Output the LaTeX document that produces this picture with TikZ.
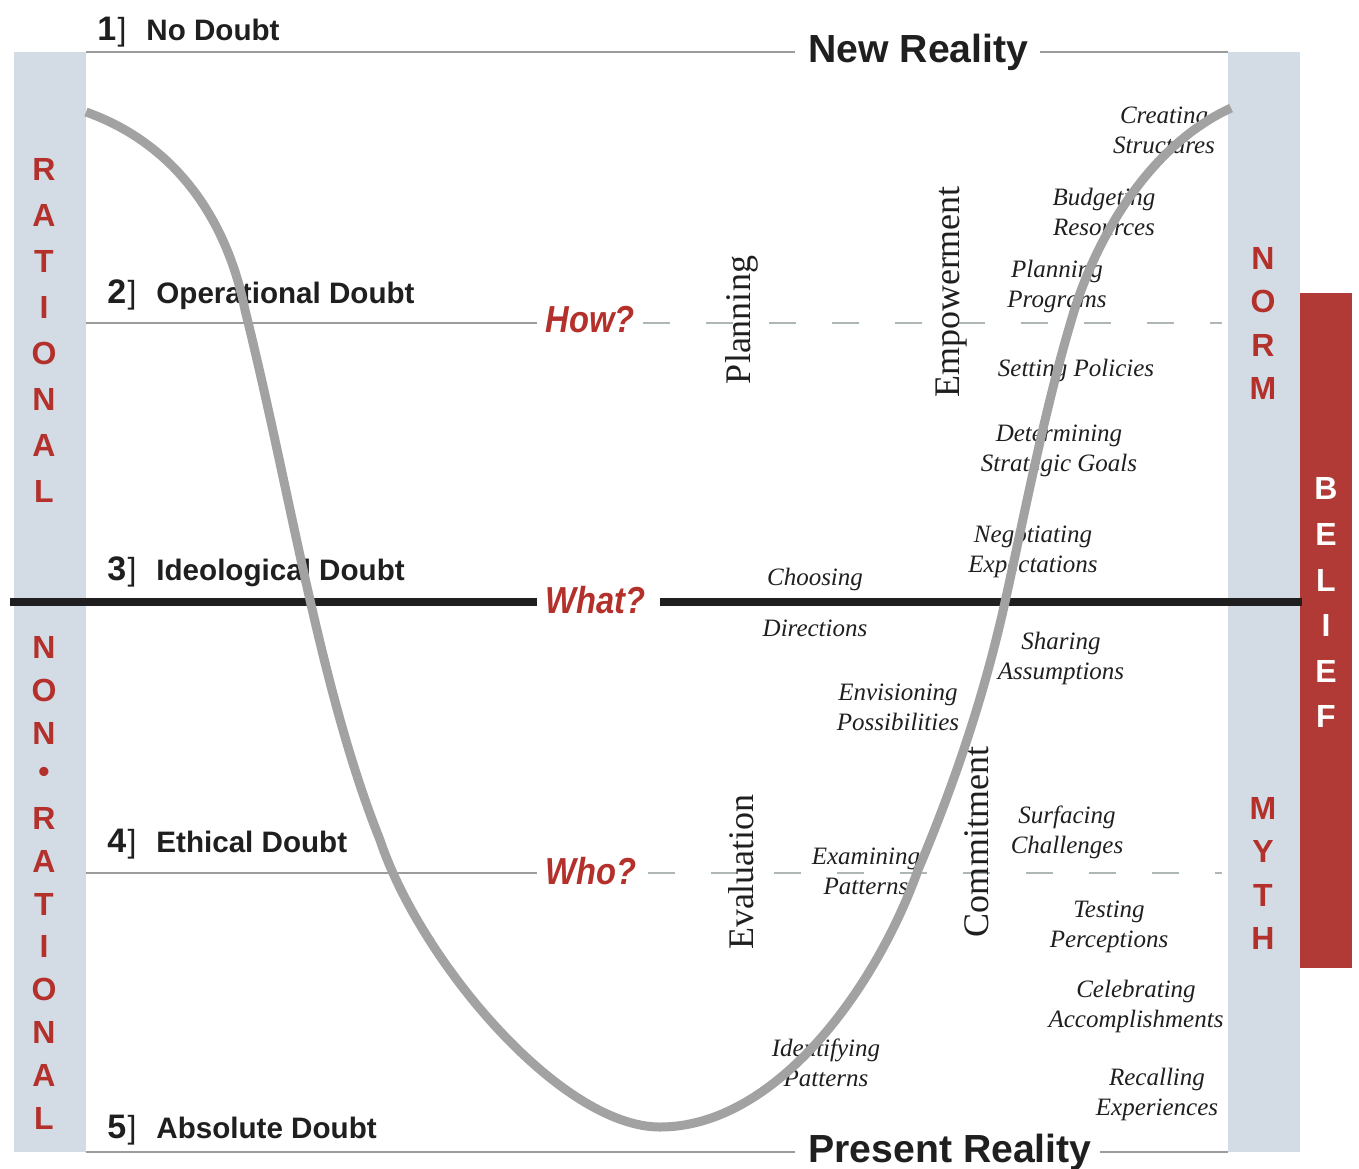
\documentclass[tikz,border=0pt]{standalone}
\usepackage{fontspec}
\setmainfont{Liberation Serif}
\setsansfont{Liberation Sans}
\newfontfamily\askfont[FakeStretch=0.87]{Liberation Sans}

\definecolor{barblue}{HTML}{D3DBE5}
\definecolor{beliefred}{HTML}{B13A36}
\definecolor{labelred}{HTML}{B3302B}
\definecolor{curvegray}{HTML}{A2A2A2}
\definecolor{inkdark}{HTML}{1F1F1F}
\definecolor{rulegray}{HTML}{9C9C9C}
\definecolor{dashgray}{HTML}{AEB6B6}

% number of a doubt level: bold digit, light bracket
\newcommand{\levelnum}[1]{{\fontsize{17}{17}\selectfont\bfseries #1}\hspace{0.6pt}{\fontsize{16}{17}\selectfont\mdseries ]}\hspace{10pt}}

\tikzset{
  rulethin/.style={draw=rulegray, line width=1pt},
  ruledash/.style={draw=dashgray, line width=1pt, dash pattern=on 13.5pt off 18pt},
  rulethick/.style={draw=inkdark, line width=4pt},
  barletter/.style={font=\sffamily\bfseries\fontsize{16}{16}\selectfont, text=labelred, inner sep=0},
  beliefletter/.style={barletter, text=white},
  doubt/.style={anchor=base west, inner sep=0, text=inkdark, font=\sffamily\bfseries\fontsize{14.8}{17}\selectfont},
  reality/.style={anchor=base west, inner sep=0, text=inkdark, font=\sffamily\bfseries\fontsize{19.6}{22}\selectfont},
  ask/.style={anchor=base west, inner sep=0, text=labelred, font=\askfont\bfseries\itshape\fontsize{18.8}{20}\selectfont},
  phase/.style={rotate=90, inner sep=0, text=inkdark, font=\rmfamily\fontsize{18}{18}\selectfont},
  act/.style={align=center, inner sep=0, text=inkdark, font=\rmfamily\itshape\fontsize{12.5}{15}\selectfont},
  curve/.style={draw=curvegray, line width=4.5pt},
}

\begin{document}
\begin{tikzpicture}[x=0.5pt, y=-0.5pt]
\useasboundingbox (0,0) rectangle (1359,1168);

% side bands
\fill[barblue] (14,52) rectangle (86,1152);
\fill[barblue] (1228,52) rectangle (1300,1152);
\fill[beliefred] (1300,293) rectangle (1352,968);

% band lettering
\foreach \ch/\yy [count=\i] in {R/169,A/215,T/261,I/307,O/353,N/399,A/445,L/491}
  \node[barletter] (rat\i) at (44,\yy) {\ch};
\foreach \ch/\yy [count=\i] in {N/647,O/690,N/733,•/775,R/818,A/861,T/904,I/946,O/989,N/1032,A/1075,L/1118}
  \node[barletter] (nrat\i) at (44,\yy) {\ch};
\foreach \ch/\yy [count=\i] in {N/258,O/301,R/345,M/388}
  \node[barletter] (norm\i) at (1263,\yy) {\ch};
\foreach \ch/\yy [count=\i] in {M/808,Y/851,T/895,H/938}
  \node[barletter] (myth\i) at (1263,\yy) {\ch};
\foreach \ch/\yy [count=\i] in {B/488,E/534,L/580,I/625,E/671,F/716}
  \node[beliefletter] (belief\i) at (1326,\yy) {\ch};

% rule end points
\coordinate (t1) at (86,52);    \coordinate (t2) at (795,52);
\coordinate (t3) at (1040,52);  \coordinate (t4) at (1228,52);
\coordinate (b1) at (86,1152);  \coordinate (b2) at (795,1152);
\coordinate (b3) at (1100,1152);\coordinate (b4) at (1228,1152);
\coordinate (h1) at (86,323);   \coordinate (h2) at (537,323);
\coordinate (h3) at (643,323);  \coordinate (h4) at (1222,323);
\coordinate (w1) at (10,602);   \coordinate (w2) at (537,602);
\coordinate (w3) at (660,602);  \coordinate (w4) at (1302,602);
\coordinate (o1) at (86,873);   \coordinate (o2) at (537,873);
\coordinate (o3) at (648,873);  \coordinate (o4) at (1222,873);

\draw[rulethin] (t1) -- (t2);  \draw[rulethin] (t3) -- (t4);
\draw[rulethin] (b1) -- (b2);  \draw[rulethin] (b3) -- (b4);
\draw[rulethin] (h1) -- (h2);  \draw[ruledash] (h3) -- (h4);
\draw[rulethin] (o1) -- (o2);  \draw[ruledash] (o3) -- (o4);
\draw[rulethick] (w1) -- (w2); \draw[rulethick] (w3) -- (w4);

% doubt levels
\node[doubt] (lv1) at (97,40)   {\levelnum{1}No Doubt};
\node[doubt] (lv2) at (107,303) {\levelnum{2}Operational Doubt};
\node[doubt] (lv3) at (107,580) {\levelnum{3}Ideological Doubt};
\node[doubt] (lv4) at (107,852) {\levelnum{4}Ethical Doubt};
\node[doubt] (lv5) at (107,1138){\levelnum{5}Absolute Doubt};

\node[reality] (newreal) at (808,62)   {New Reality};
\node[reality] (presreal) at (808,1162){Present Reality};

\node[ask] (how)  at (545,332) {How?};
\node[ask] (what) at (545,613) {What?};
\node[ask] (who)  at (545,884) {Who?};

% phases
\node[phase] (planning) at (742,320) {Planning};
\node[phase] (empower)  at (952,292) {Empowerment};
\node[phase] (evaluate) at (741,872) {Evaluation};
\node[phase] (commit)   at (977,842) {Commitment};

% activities
\node[act] (cs)  at (1164,130) {Creating\\Structures};
\node[act] (br)  at (1104,212) {Budgeting\\Resources};
\node[act] (pp)  at (1057,286) {Planning\\Programs};
\node[act] (sp)  at (1076,370) {Setting Policies};
\node[act] (dsg) at (1059,451) {Determining\\Strategic Goals};
\node[act] (ne)  at (1033,552) {Negotiating\\Expectations};
\node[act] (cho) at (815,579)  {Choosing};
\node[act] (dir) at (815,628)  {Directions};
\node[act] (sa)  at (1061,658) {Sharing\\Assumptions};
\node[act] (ep)  at (898,707)  {Envisioning\\Possibilities};
\node[act] (sc)  at (1067,832) {Surfacing\\Challenges};
\node[act] (exa) at (866,871)  {Examining\\Patterns};
\node[act] (tp)  at (1109,927) {Testing\\Perceptions};
\node[act] (ca)  at (1136,1006){Celebrating\\Accomplishments};
\node[act] (ip)  at (826,1063) {Identifying\\Patterns};
\node[act] (re)  at (1157,1094){Recalling\\Experiences};

% the change curve: down from the rational side, through the trough, up to the norm side
\draw[curve] (86,112)
  .. controls (176,144) and (227,220) .. (245,310)
  .. controls (290,490) and (320,690) .. (380,840)
  .. controls (420,960) and (560,1127) .. (660,1127)
  .. controls (775,1127) and (875,990) .. (918,870)
  .. controls (956,780) and (985,692) .. (1005,602)
  .. controls (1025,512) and (1045,408) .. (1072,318)
  .. controls (1090,255) and (1140,150) .. (1231,108);
\end{tikzpicture}
\end{document}
